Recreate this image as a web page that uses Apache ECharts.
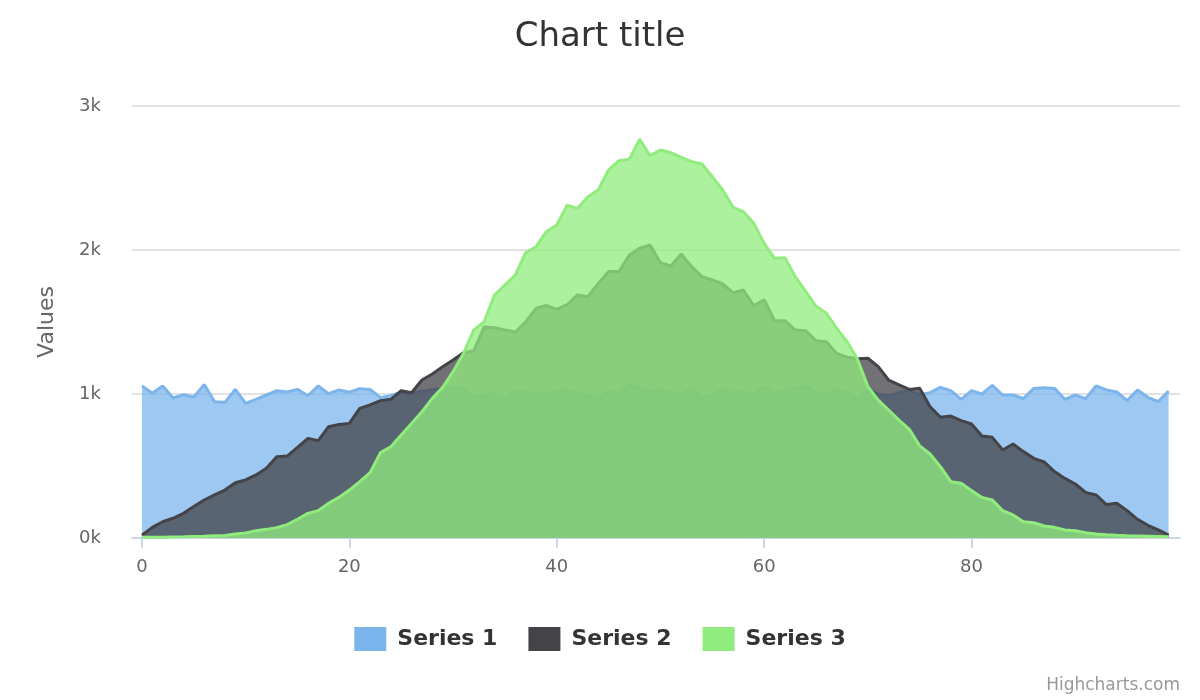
<!DOCTYPE html>
<html>
<head>
<meta charset="utf-8">
<script src="https://cdn.jsdelivr.net/npm/echarts@6/dist/echarts.min.js"></script>
<style>
  html, body { margin: 0; padding: 0; background: #fff; }
  #chart { width: 1200px; height: 700px; }
</style>
</head>
<body>
<div id="chart"></div>
<script>
// 数据
var xTicks = [0, 20, 40, 60, 80];
var seriesNames = ['Series 1', 'Series 2', 'Series 3'];
var series1 = [1056, 1005, 1056, 972, 995, 979, 1065, 947, 942, 1032, 935, 963, 993, 1023, 1014, 1032, 988, 1056, 1002, 1028,
  1012, 1037, 1032, 975, 990, 1010, 1000, 1020, 1030, 1040, 1035, 1045, 980, 990, 1000, 960, 1025, 1010, 1000, 995,
  1015, 1030, 1010, 990, 965, 1025, 1005, 1065, 1040, 1020, 1030, 1010, 990, 1040, 970, 995, 1030, 1005, 1015, 995,
  1045, 1010, 1020, 1035, 1055, 1015, 995, 1030, 1010, 965, 1030, 1000, 985, 1010, 1025, 995, 1009, 1046, 1023, 963,
  1023, 1000, 1060, 993, 993, 968, 1039, 1044, 1039, 963, 993, 968, 1056, 1028, 1014, 954, 1028, 977, 947, 1021];
var series2 = [20, 74, 113, 137, 171, 218, 264, 299, 333, 384, 403, 438, 484, 565, 569, 630, 692, 676, 773, 789,
  796, 900, 924, 954, 963, 1023, 1009, 1097, 1139, 1190, 1236, 1287, 1300, 1465, 1460, 1445, 1430, 1500, 1595, 1615,
  1588, 1620, 1688, 1676, 1768, 1850, 1850, 1965, 2012, 2035, 1912, 1889, 1972, 1884, 1815, 1792, 1764, 1704, 1722, 1612,
  1655, 1509, 1509, 1444, 1440, 1370, 1363, 1282, 1255, 1245, 1248, 1190, 1097, 1063, 1032, 1040, 912, 838, 847, 815,
  792, 709, 699, 611, 653, 600, 553, 528, 461, 414, 375, 317, 299, 232, 241, 190, 130, 88, 56, 21];
var series3 = [5, 5, 6, 7, 8, 10, 12, 15, 18, 28, 35, 51, 60, 72, 93, 130, 171, 190, 241, 282,
  333, 391, 454, 593, 634, 715, 796, 877, 970, 1046, 1155, 1282, 1445, 1502, 1687, 1757, 1826, 1981, 2023, 2127,
  2174, 2312, 2289, 2370, 2417, 2556, 2620, 2630, 2769, 2655, 2694, 2676, 2644, 2613, 2597, 2509, 2417, 2296, 2266, 2185,
  2046, 1942, 1947, 1815, 1713, 1609, 1560, 1456, 1363, 1241, 1051, 958, 889, 819, 755, 640, 583, 495, 391, 380,
  329, 282, 264, 190, 160, 113, 106, 83, 74, 56, 51, 37, 28, 23, 19, 16, 14, 12, 10, 8];
var colors = ['#7cb5ec', '#434348', '#90ed7d'];

function toPoints(values) {
  return values.map(function (v, i) { return [i, v]; });
}

var myChart = echarts.init(document.getElementById('chart'));
var font = 'DejaVu Sans';
var allData = [series1, series2, series3];

var option = {
  animation: false,
  color: colors,
  title: {
    text: 'Chart title',
    left: 'center',
    top: 15,
    textStyle: { fontFamily: font, fontSize: 34, fontWeight: 'normal', color: '#333333' }
  },
  legend: {
    bottom: 44,
    left: 'center',
    icon: 'rect',
    itemWidth: 32,
    itemHeight: 24,
    itemGap: 31,
    textStyle: { fontFamily: font, fontSize: 22, fontWeight: 'bold', color: '#333333', padding: [0, 0, 0, 6] },
    data: seriesNames.map(function (n, i) { return { name: n, itemStyle: { color: colors[i], opacity: 1 } }; })
  },
  grid: { left: 132, right: 20, top: 106, bottom: 162 },
  xAxis: {
    type: 'value',
    min: -0.96,
    max: 100.1,
    splitLine: { show: false },
    axisLine: { show: true, lineStyle: { color: '#ccd6eb', width: 2 } },
    axisTick: { show: true, customValues: xTicks, length: 10, lineStyle: { color: '#ccd6eb', width: 2 } },
    axisLabel: { customValues: xTicks, margin: 20, fontFamily: font, fontSize: 18, color: '#666666' }
  },
  yAxis: {
    type: 'value',
    min: 0,
    max: 3000,
    interval: 1000,
    name: 'Values',
    nameLocation: 'middle',
    nameGap: 74,
    nameTextStyle: { fontFamily: font, fontSize: 22, color: '#666666' },
    axisLine: { show: false },
    axisTick: { show: false },
    axisLabel: {
      margin: 31, fontFamily: font, fontSize: 18, color: '#666666',
      formatter: function (v) { return (v / 1000) + 'k'; }
    },
    splitLine: { lineStyle: { color: '#d8d8d8', width: 1.5 } }
  },
  graphic: [{
    type: 'text',
    right: 20,
    bottom: 6,
    style: { text: 'Highcharts.com', fontFamily: font, fontSize: 17, fill: '#999999' }
  }],
  series: seriesNames.map(function (n, i) {
    return {
      name: n,
      type: 'line',
      z: 2 + i,
      data: toPoints(allData[i]),
      symbol: 'none',
      itemStyle: { color: colors[i] },
      lineStyle: { color: colors[i], width: 3 },
      areaStyle: { color: colors[i], opacity: 0.75 },
      emphasis: { disabled: true }
    };
  })
};

myChart.setOption(option);
</script>
</body>
</html>
